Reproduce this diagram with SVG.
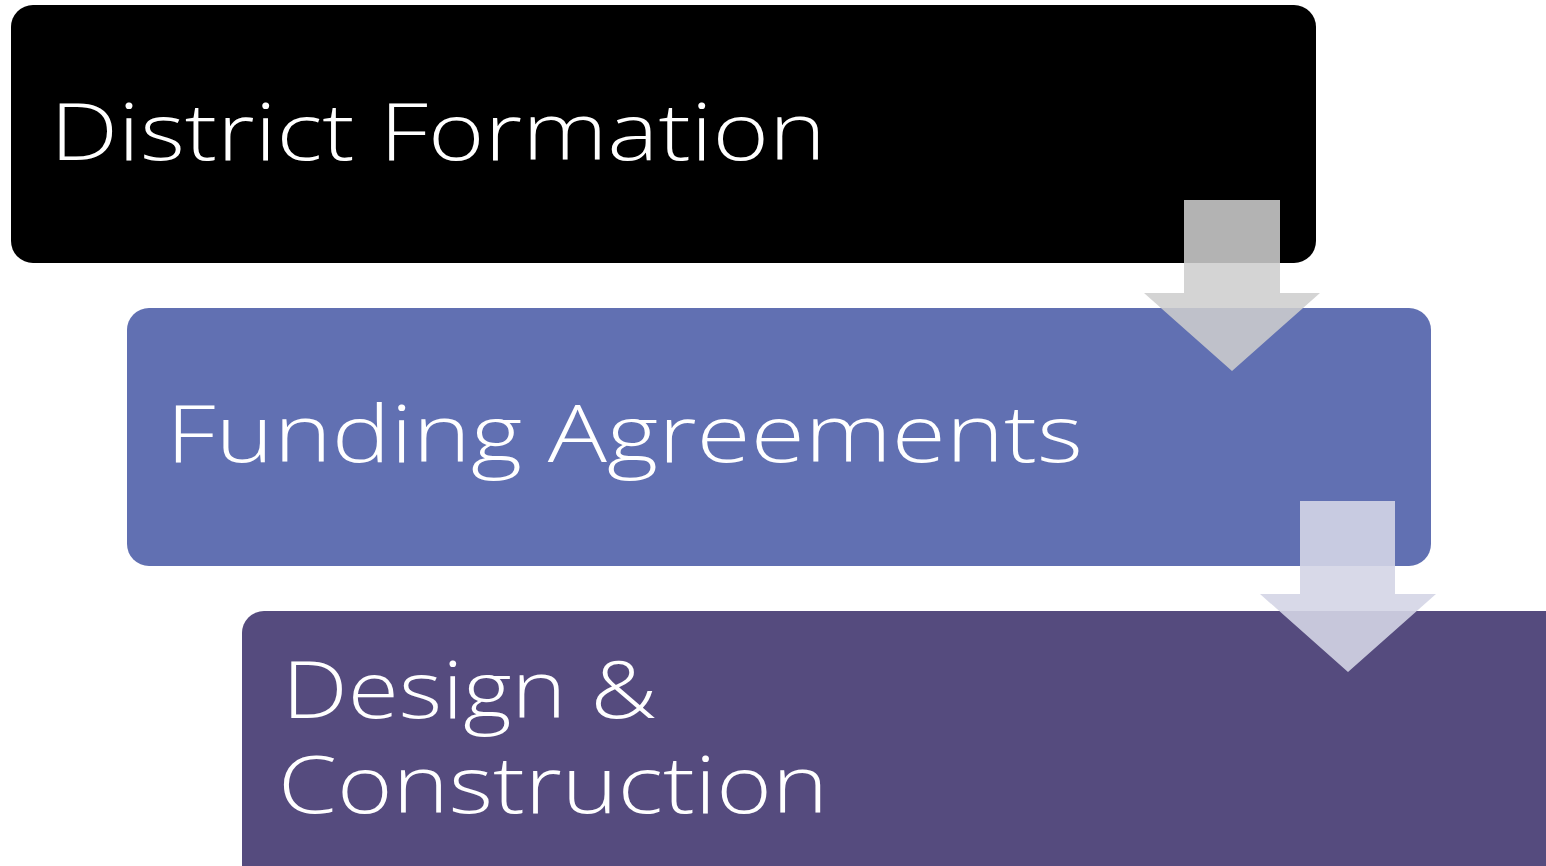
<svg xmlns="http://www.w3.org/2000/svg" width="1546" height="866" viewBox="0 0 1546 866">
<style>
.lbl{font-family:"Open Sans","Liberation Sans",sans-serif;font-weight:300;font-size:80px;fill:#ffffff}
</style>
<rect width="1546" height="866" fill="#ffffff"/>
<g id="node-district">
<rect x="11" y="5" width="1305" height="258" rx="22" fill="#000000"/>
<text class="lbl" x="50" y="160" textLength="776" lengthAdjust="spacingAndGlyphs">District Formation</text>
</g>
<g id="node-funding">
<rect x="127" y="308" width="1304" height="258" rx="22" fill="#6170b2"/>
<text class="lbl" x="166" y="462" textLength="917" lengthAdjust="spacingAndGlyphs">Funding Agreements</text>
</g>
<g id="node-design">
<rect x="242" y="611" width="1330" height="280" rx="22" fill="#554b7e"/>
<text class="lbl"><tspan x="282" y="718" textLength="375" lengthAdjust="spacingAndGlyphs">Design &amp;</tspan><tspan x="278" y="813" textLength="550" lengthAdjust="spacingAndGlyphs">Construction</tspan></text>
</g>
<g id="connectors">
<polygon points="1184,200 1280,200 1280,293 1320,293 1232,371 1144,293 1184,293" fill="#cecece" fill-opacity="0.87"/>
<polygon points="1300,501 1395,501 1395,594 1436,594 1348,672 1260,594 1300,594" fill="#d4d5e5" fill-opacity="0.9"/>
</g>
</svg>
